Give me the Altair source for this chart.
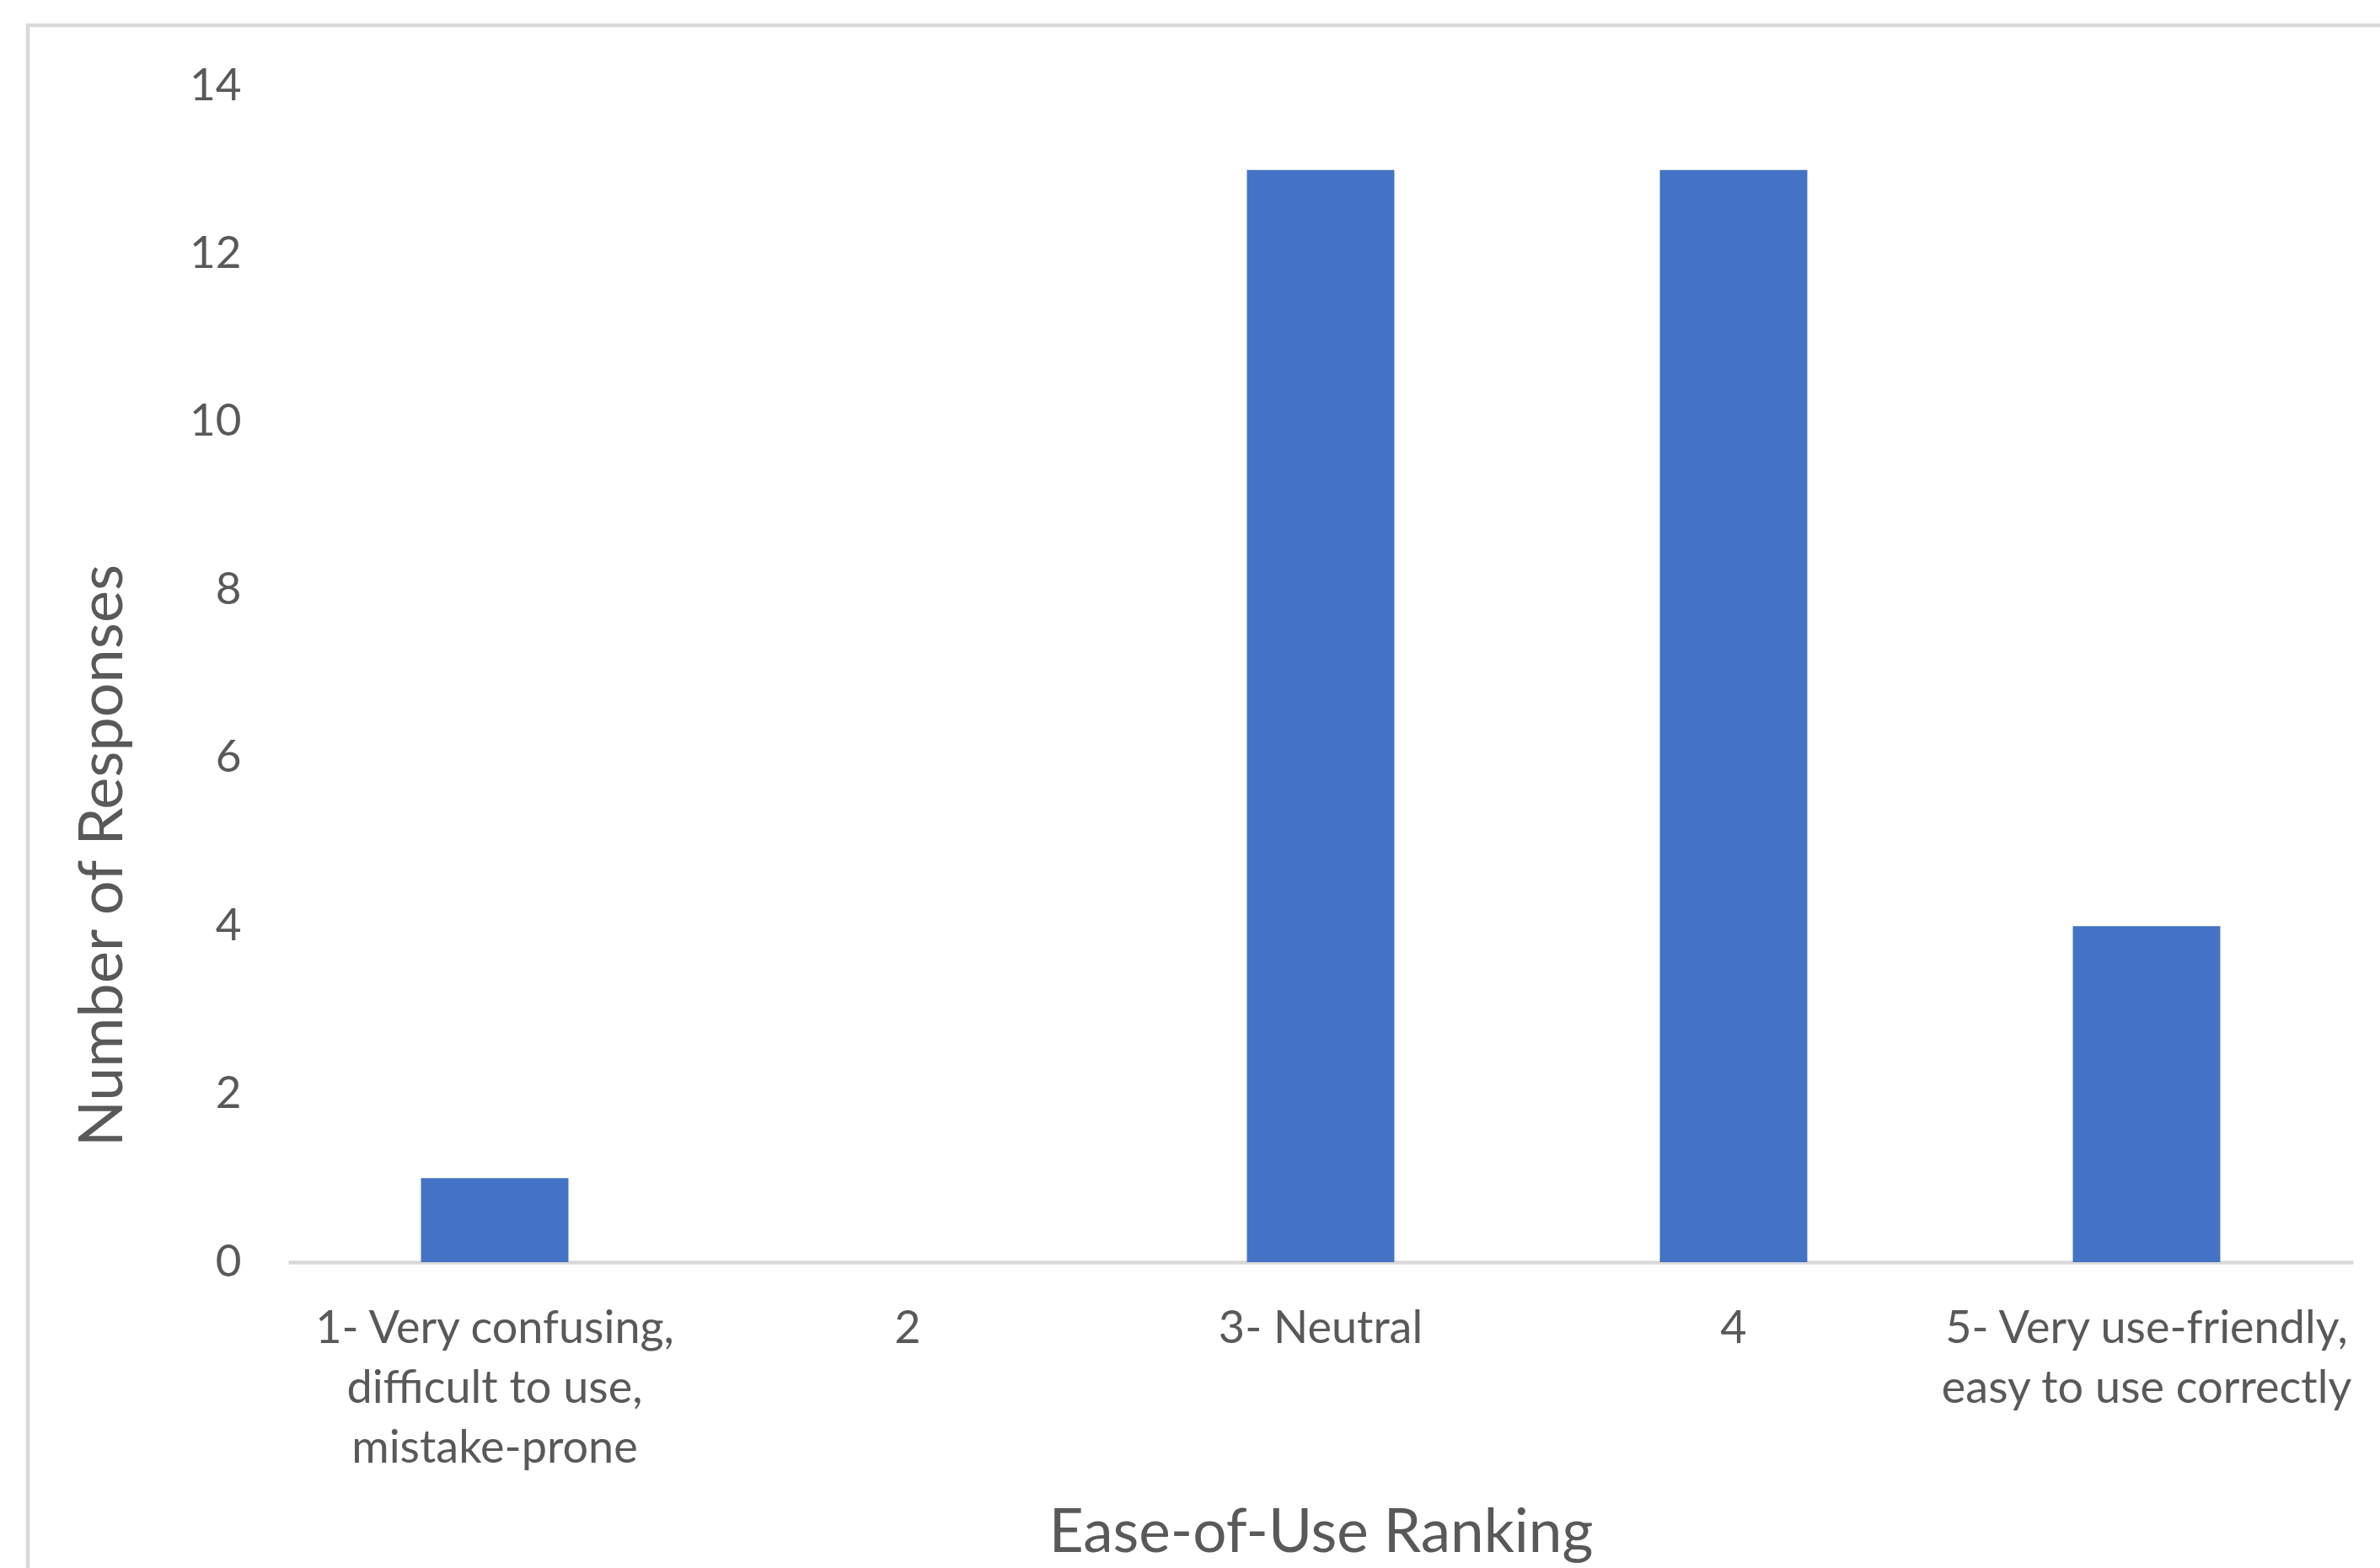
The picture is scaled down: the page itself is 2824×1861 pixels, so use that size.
import altair as alt
import pandas as pd

categories = [
    "1- Very confusing,|difficult to use,|mistake-prone",
    "2",
    "3- Neutral",
    "4",
    "5- Very use-friendly,|easy to use correctly",
]
responses = [1, 0, 13, 13, 4]
y_ticks = [0, 2, 4, 6, 8, 10, 12, 14]

df = pd.DataFrame({"rank": categories, "n": responses})
frame_df = pd.DataFrame({"f": [0]})

FONT = "Lato"
TXT = "#595959"
GRAY = "#d9d9d9"
W, H = 2450, 1396

bars = alt.Chart(df).mark_bar(color="#4472C4").encode(
    x=alt.X(
        "rank:N",
        sort=categories,
        scale=alt.Scale(paddingInner=0.643, paddingOuter=0.3215),
        axis=alt.Axis(
            title="Ease-of-Use Ranking",
            labelExpr="split(datum.label, '|')",
            labelAngle=0,
            labelFont=FONT,
            labelFontSize=54,
            labelColor=TXT,
            labelLineHeight=71,
            labelPadding=52,
            labelBaseline="top",
            labelLimit=2000,
            labelOverlap=False,
            ticks=False,
            tickSize=0,
            domainColor=GRAY,
            domainWidth=4.5,
            titleFont=FONT,
            titleFontSize=71,
            titleFontWeight="normal",
            titleColor=TXT,
            titleY=322,
            titleBaseline="middle",
        ),
    ),
    y=alt.Y(
        "n:Q",
        scale=alt.Scale(domain=[0, 14], nice=False),
        axis=alt.Axis(
            title="Number of Responses",
            values=y_ticks,
            grid=False,
            domain=False,
            ticks=False,
            tickSize=0,
            labelPadding=56,
            labelFont=FONT,
            labelFontSize=53,
            labelColor=TXT,
            titleFont=FONT,
            titleFontSize=72,
            titleFontWeight="normal",
            titleColor=TXT,
            titleX=-220,
            titleY=913,
            titleAlign="center",
            titleBaseline="middle",
        ),
    ),
)

frame = alt.Chart(frame_df).mark_rect(
    fill=None, stroke=GRAY, strokeWidth=4.5, clip=False
).encode(
    x=alt.value(-309),
    x2=alt.value(W + 300),
    y=alt.value(-72),
    y2=alt.value(H + 600),
)

chart = alt.layer(frame, bars).properties(
    width=W,
    height=H,
    autosize=alt.AutoSizeParams(type="none"),
    padding={"left": 342, "top": 102, "right": 32, "bottom": 363},
    background="white",
).configure_view(stroke=None)

chart.save("out.html", embed_options={"renderer": "svg", "actions": False})
